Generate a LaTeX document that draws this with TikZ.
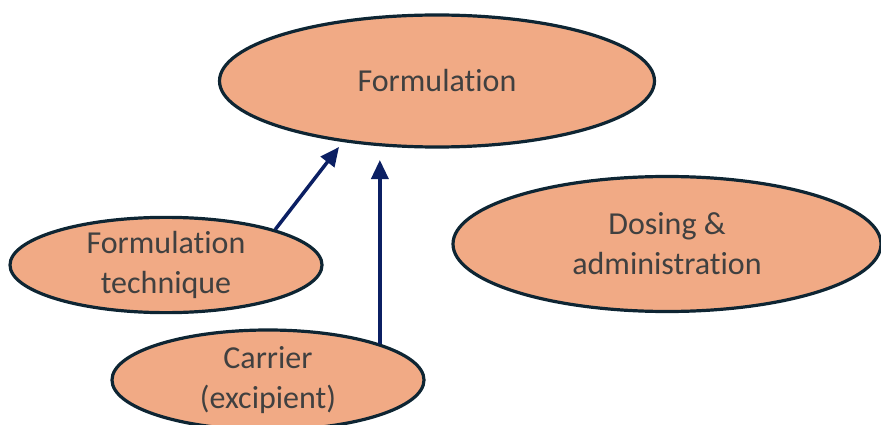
\documentclass[tikz,border=0pt]{standalone}
\usepackage{fontspec}
\setmainfont[Ligatures=NoCommon]{Carlito}
\usetikzlibrary{shapes.geometric,arrows.meta,positioning}
\definecolor{peach}{HTML}{F1AA85}
\definecolor{rim}{HTML}{0E2533}
\definecolor{navy}{HTML}{0B1F63}
\definecolor{ink}{HTML}{404040}

\begin{document}
\begin{tikzpicture}
  [x=1pt,y=-1pt,every node/.style={ellipse,draw=rim,line width=3.2pt,fill=peach,
   text=ink,inner sep=0pt,align=center,font=\fontsize{32}{40}\selectfont},
   link/.style={draw=navy,line width=3.5pt,-{Triangle[length=19pt,width=17pt]}}]
  \useasboundingbox (0,0) rectangle (881,425);
  \node[minimum width=435pt,minimum height=132pt] (form) at (437,81) {Formulation};
  \node[minimum width=312pt,minimum height=94pt] (tech) at (166,265) {Formulation\\technique};
  \node[minimum width=312pt,minimum height=100pt] (carr) at (268,380) {Carrier\\(excipient)};
  \node[minimum width=428pt,minimum height=135pt] (dose) at (667,244) {Dosing \&\\administration};

  \coordinate (t1) at (339,147);
  \coordinate (t2) at (carr.18 |- 0,160);
  \foreach \from/\to in {tech.18/t1,carr.18/t2}
    \path[link] (\from) -- (\to);
\end{tikzpicture}
\end{document}
